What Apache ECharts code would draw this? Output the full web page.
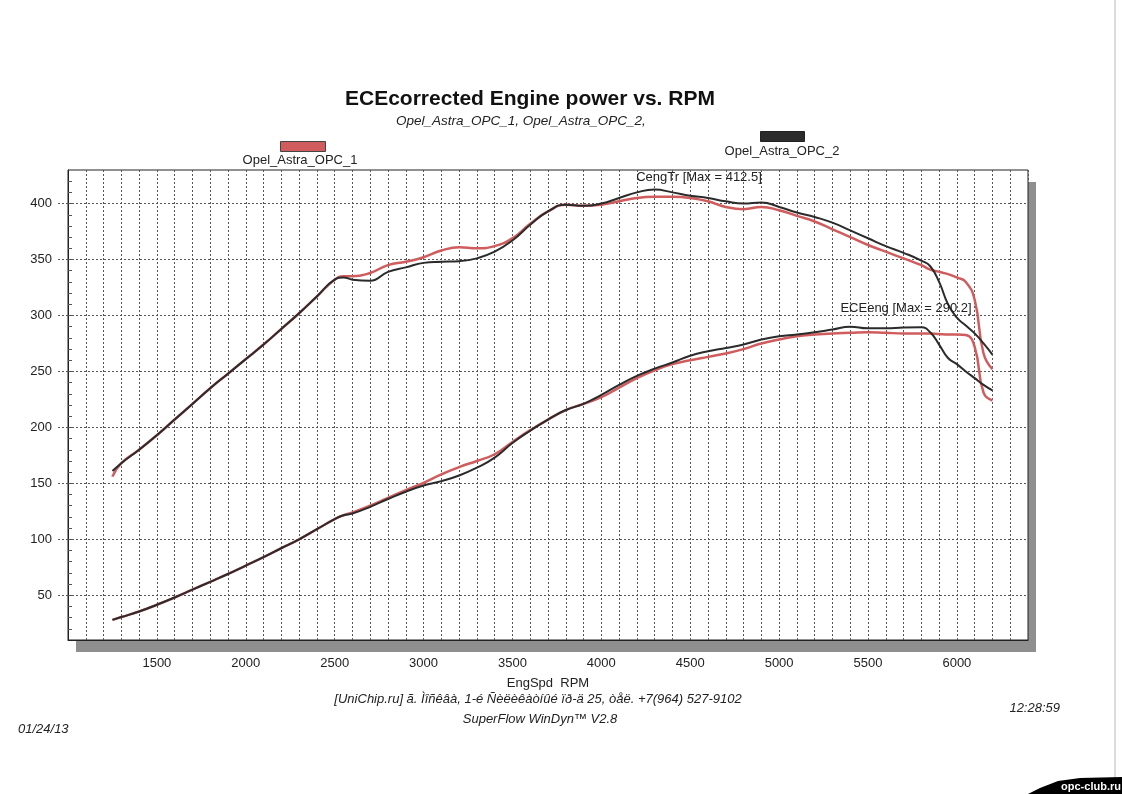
<!DOCTYPE html>
<html>
<head>
<meta charset="utf-8">
<script src="https://cdn.jsdelivr.net/npm/echarts@6/dist/echarts.min.js"></script>
<style>
html,body{margin:0;padding:0;background:#fff;}
#chart{width:1122px;height:794px;}
</style>
</head>
<body>
<div id="chart"></div>
<script>
// Engine speed (RPM) sample points
const rpm = [1250,1300,1400,1500,1600,1700,1800,1900,2000,2100,2200,2300,2400,2500,2550,
  2600,2700,2800,2900,3000,3100,3200,3300,3400,3500,3600,3700,3800,3900,4000,4100,4200,4300,
  4400,4500,4600,4700,4800,4900,5000,5100,5200,5300,5400,5500,5600,5700,5800,
  5850,5900,5950,6000,6050,6100,6150,6200];

// CengTr (torque) – Opel_Astra_OPC_1 (red)
const torqueOPC1 = [156,168,180,193,207,221,235,248,261,274,288,302,317,332,335,
  335,338,345,348,352,358,361,360,362,369,382,393,399,398,399,402,405,406,
  406,405,402,397,395,397,394,389,384,377,370,363,357,351,345,
  341,339,337,334,330,314,266,252];

// CengTr (torque) – Opel_Astra_OPC_2 (black)
const torqueOPC2 = [161,168,180,193,207,221,235,248,261,274,288,302,317,332,334,
  332,331,339,343,347,348,348.5,351,357,367,381,393,399,398,400,405,410,412.5,
  410,407,405,402,400,401,397,392,388,383,376,369,362,356,349,
  344,330,310,298,291,284,275,265];

// ECEeng (power) – Opel_Astra_OPC_1 (red)
const powerOPC1 = [28,30.5,35.5,41.5,48,55,62,69,76.5,84,92,100,109,118,121.5,
  124,130,137,144,150.5,158,164.5,170,176,187,197.5,207,215.5,221,227,235.5,244,251,
  256.5,260,263,266,270,275,278.5,281.5,283,284,284.5,285,284.5,284,284,
  284,283.5,283,283,282.5,272,231,224];

// ECEeng (power) – Opel_Astra_OPC_2 (black)
const powerOPC2 = [28,30.5,35.5,41.5,48,55,62,69,76.5,84,92,100,109,118,121.5,
  123,129,136,142.5,148,152,157,164,173,186,197,207,215.5,221,229,238,246,252.5,
  258,264,268,271,274,278.5,281.5,283,285,287.5,290,288.5,288.5,289.3,289.5,
  285,274,262,256.5,250,244,238,233];

const xTickLabels = [1500,2000,2500,3000,3500,4000,4500,5000,5500,6000];
const yTickLabels = [50,100,150,200,250,300,350,400];
const yMinorTicks = [20,30,40,50,60,70,80,90,100,110,120,130,140,150,160,170,180,190,200,
  210,220,230,240,250,260,270,280,290,300,310,320,330,340,350,360,370,380,390,400,410,420];

const seriesNames = ['Opel_Astra_OPC_1','Opel_Astra_OPC_2'];
const RED = '#d05c5e';
const BLACK = '#2b2b2b';
const FONT = '"Liberation Sans", Arial, sans-serif';

function pairs(vals){ return rpm.map((r,i)=>[r, vals[i]]); }

const GRID = { left: 68, top: 170, width: 960, height: 470 };

const chart = echarts.init(document.getElementById('chart'));
chart.setOption({
  backgroundColor: '#ffffff',
  animation: false,
  title: [
    { text: 'ECEcorrected Engine power vs. RPM', left: 340, top: 84,
      textStyle: { fontFamily: FONT, fontSize: 21, fontWeight: 'bold', color: '#111' } },
    { text: 'Opel_Astra_OPC_1, Opel_Astra_OPC_2,', left: 391, top: 109,
      textStyle: { fontFamily: FONT, fontSize: 13.5, fontStyle: 'italic', fontWeight: 'normal', color: '#222' } }
  ],
  legend: [
    { data: [seriesNames[0]], left: 280, top: 141, padding: 0, icon: 'rect', itemWidth: 45, itemHeight: 10,
      formatter: () => '', selectedMode: false, itemStyle: { borderColor: '#444', borderWidth: 1 } },
    { data: [seriesNames[1]], left: 760, top: 131, padding: 0, icon: 'rect', itemWidth: 44, itemHeight: 10,
      formatter: () => '', selectedMode: false, itemStyle: { borderColor: '#222', borderWidth: 1 } }
  ],
  grid: {
    left: GRID.left, top: GRID.top, width: GRID.width, height: GRID.height,
    show: true, backgroundColor: '#ffffff', borderColor: '#222', borderWidth: 1
  },
  xAxis: {
    type: 'value', min: 1000, max: 6400, interval: 100,
    name: 'EngSpd  RPM', nameLocation: 'middle', nameGap: 37,
    nameTextStyle: { fontFamily: FONT, fontSize: 13, color: '#222' },
    axisLine: { show: true, lineStyle: { color: '#222', width: 1 } },
    axisTick: { show: false },
    axisLabel: {
      margin: 17, fontFamily: FONT, fontSize: 13, color: '#222',
      formatter: v => xTickLabels.indexOf(v) >= 0 ? String(v) : ''
    },
    splitLine: { show: true, lineStyle: { color: '#555', width: 1, type: [2, 2] } }
  },
  yAxis: [
    {
      type: 'value', min: 10, max: 430,
      axisLine: { show: true, lineStyle: { color: '#222', width: 1 } },
      axisTick: { show: true, inside: false, length: 12, customValues: yTickLabels,
        lineStyle: { color: '#555', type: [2, 2] } },
      axisLabel: { customValues: yTickLabels, margin: 16, fontFamily: FONT, fontSize: 13, color: '#222' },
      splitLine: { show: true, lineStyle: { color: '#555', width: 1, type: [2, 2] } }
    },
    {
      type: 'value', min: 10, max: 430, position: 'left',
      axisLine: { show: false },
      axisTick: { show: true, inside: true, length: 4, customValues: yMinorTicks,
        lineStyle: { color: '#555', width: 1 } },
      axisLabel: { show: false },
      splitLine: { show: false }
    }
  ],
  series: [
    { name: seriesNames[0], type: 'line', data: pairs(torqueOPC1), showSymbol: false,
      smooth: 0.5, color: RED, lineStyle: { color: RED, width: 2.5 }, z: 2 },
    { name: seriesNames[0], type: 'line', data: pairs(powerOPC1), showSymbol: false,
      smooth: 0.5, color: RED, lineStyle: { color: RED, width: 2.5 }, z: 2 },
    { name: seriesNames[1], type: 'line', data: pairs(torqueOPC2), showSymbol: false,
      smooth: 0.5, color: BLACK, lineStyle: { color: BLACK, width: 2 }, z: 3 },
    { name: seriesNames[1], type: 'line', data: pairs(powerOPC2), showSymbol: false,
      smooth: 0.5, color: BLACK, lineStyle: { color: BLACK, width: 2 }, z: 3 }
  ],
  graphic: [
    { type: 'rect', z: -10, silent: true,
      shape: { x: GRID.left + 8, y: GRID.top + 12, width: GRID.width, height: GRID.height },
      style: { fill: '#8f8f8f' } },
    { type: 'text', x: 300, y: 160, style: { text: 'Opel_Astra_OPC_1', font: '13px ' + FONT, fill: '#222', textAlign: 'center', textVerticalAlign: 'middle' } },
    { type: 'text', x: 782, y: 151, style: { text: 'Opel_Astra_OPC_2', font: '13px ' + FONT, fill: '#222', textAlign: 'center', textVerticalAlign: 'middle' } },
    { type: 'text', x: 699, y: 177, z: 10, style: { text: 'CengTr [Max = 412.5]', font: '13px ' + FONT, fill: '#222', textAlign: 'center', textVerticalAlign: 'middle' } },
    { type: 'text', x: 906, y: 308, z: 10, style: { text: 'ECEeng [Max = 290.2]', font: '13px ' + FONT, fill: '#222', textAlign: 'center', textVerticalAlign: 'middle' } },
    { type: 'text', x: 538, y: 699, style: { text: '[UniChip.ru] ã. Ìîñêâà, 1-é Ñèëèêàòíûé ïð-ä 25, òåë. +7(964) 527-9102', font: 'italic 13px ' + FONT, fill: '#222', textAlign: 'center', textVerticalAlign: 'middle' } },
    { type: 'text', x: 540, y: 719, style: { text: 'SuperFlow WinDyn™ V2.8', font: 'italic 13px ' + FONT, fill: '#222', textAlign: 'center', textVerticalAlign: 'middle' } },
    { type: 'text', x: 1060, y: 708, style: { text: '12:28:59', font: 'italic 13px ' + FONT, fill: '#222', textAlign: 'right', textVerticalAlign: 'middle' } },
    { type: 'text', x: 18, y: 729, style: { text: '01/24/13', font: 'italic 13px ' + FONT, fill: '#222', textAlign: 'left', textVerticalAlign: 'middle' } },
    { type: 'line', shape: { x1: 1115, y1: 0, x2: 1115, y2: 778 }, style: { stroke: '#b8b8b8', lineWidth: 1 } },
    { type: 'polygon', shape: { points: [[1028,794],[1040,788],[1058,781],[1080,778],[1122,777],[1122,794]] }, style: { fill: '#000' } },
    { type: 'text', x: 1091, y: 787, style: { text: 'opc-club.ru', font: 'bold 11px ' + FONT, fill: '#fff', textAlign: 'center', textVerticalAlign: 'middle' } }
  ]
});
</script>
</body>
</html>
